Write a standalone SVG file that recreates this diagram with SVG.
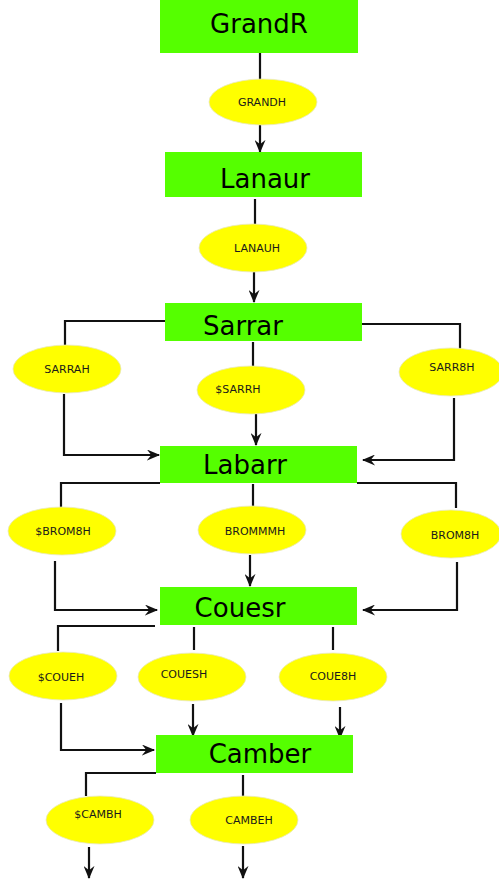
<svg xmlns="http://www.w3.org/2000/svg" width="499" height="883" viewBox="0 0 499 883">
<style>
.box{fill:#55ff00}
.ell{fill:#ffff00;stroke:#e8e8c0;stroke-width:0.8}
.big{font-family:"DejaVu Sans",sans-serif;font-size:26px;fill:#000;text-anchor:middle}
.sm{font-family:"DejaVu Sans",sans-serif;font-size:11px;fill:#1a1a1a;text-anchor:middle}
.ln{fill:none;stroke:#111;stroke-width:2.2}
.ar{fill:none;stroke:#111;stroke-width:2.2;marker-end:url(#ah)}
</style>
<defs>
<marker id="ah" viewBox="0 0 12 10" refX="11" refY="5" markerWidth="14" markerHeight="11" markerUnits="userSpaceOnUse" orient="auto">
<path d="M0,0 L12,5 L0,10 L4,5 z" fill="#111"/>
</marker>
</defs>
<rect width="499" height="883" fill="#fff"/>
<g id="connectors">
<path class="ln" d="M260,53 V80"/>
<path class="ar" d="M260,125 V152"/>
<path class="ln" d="M255,199 V224"/>
<path class="ar" d="M254,272 V302"/>
<path class="ln" d="M165,321 H65 V345"/>
<path class="ar" d="M64,394 V455 H159"/>
<path class="ln" d="M253,342 V367"/>
<path class="ar" d="M256,414 V445"/>
<path class="ln" d="M362,324 H460 V349"/>
<path class="ar" d="M454,398 V460 H363"/>
<path class="ln" d="M160,483 H61 V508"/>
<path class="ar" d="M55,561 V610 H157"/>
<path class="ln" d="M253,484 V506"/>
<path class="ar" d="M250,555 V586"/>
<path class="ln" d="M357,483 H456 V508"/>
<path class="ar" d="M457,562 V610 H363"/>
<path class="ln" d="M155,626 H58 V651"/>
<path class="ar" d="M61,703 V750 H154"/>
<path class="ln" d="M194,627 V650"/>
<path class="ar" d="M193,704 V736"/>
<path class="ln" d="M333,627 V650"/>
<path class="ar" d="M340,707 V738"/>
<path class="ln" d="M156,773 H86 V796"/>
<path class="ar" d="M89,847 V878"/>
<path class="ln" d="M243,775 V796"/>
<path class="ar" d="M243,846 V878"/>
</g>
<g id="GrandR"><rect class="box" x="160" y="0" width="198" height="53"/><text class="big" x="259" y="33">GrandR</text></g>
<g id="GRANDH"><ellipse class="ell" cx="263" cy="102" rx="54" ry="23"/><text class="sm" x="262" y="106">GRANDH</text></g>
<g id="Lanaur"><rect class="box" x="165" y="152" width="197" height="45"/><text class="big" x="265" y="188">Lanaur</text></g>
<g id="LANAUH"><ellipse class="ell" cx="253" cy="248" rx="54" ry="24"/><text class="sm" x="257" y="252">LANAUH</text></g>
<g id="Sarrar"><rect class="box" x="165" y="303" width="197" height="38"/><text class="big" x="243" y="335">Sarrar</text></g>
<g id="SARRAH"><ellipse class="ell" cx="67" cy="369" rx="54" ry="24"/><text class="sm" x="67" y="373">SARRAH</text></g>
<g id="SSARRH"><ellipse class="ell" cx="251" cy="390" rx="54" ry="24"/><text class="sm" x="238" y="393">$SARRH</text></g>
<g id="SARR8H"><ellipse class="ell" cx="451" cy="372" rx="52" ry="24"/><text class="sm" x="452" y="371">SARR8H</text></g>
<g id="Labarr"><rect class="box" x="160" y="446" width="197" height="37"/><text class="big" x="245" y="474">Labarr</text></g>
<g id="SBROM8H"><ellipse class="ell" cx="62" cy="531" rx="54" ry="24"/><text class="sm" x="63" y="535">$BROM8H</text></g>
<g id="BROMMMH"><ellipse class="ell" cx="252" cy="530" rx="54" ry="24"/><text class="sm" x="255" y="535">BROMMMH</text></g>
<g id="BROM8H"><ellipse class="ell" cx="451" cy="534" rx="50" ry="24"/><text class="sm" x="455" y="539">BROM8H</text></g>
<g id="Couesr"><rect class="box" x="160" y="587" width="197" height="38"/><text class="big" x="240" y="617">Couesr</text></g>
<g id="SCOUEH"><ellipse class="ell" cx="63" cy="676" rx="54" ry="24"/><text class="sm" x="61" y="681">$COUEH</text></g>
<g id="COUESH"><ellipse class="ell" cx="192" cy="677" rx="54" ry="24"/><text class="sm" x="184" y="678">COUESH</text></g>
<g id="COUE8H"><ellipse class="ell" cx="333" cy="677" rx="54" ry="24"/><text class="sm" x="333" y="680">COUE8H</text></g>
<g id="Camber"><rect class="box" x="156" y="735" width="197" height="38"/><text class="big" x="260" y="763">Camber</text></g>
<g id="SCAMBH"><ellipse class="ell" cx="100" cy="820" rx="54" ry="24"/><text class="sm" x="98" y="818">$CAMBH</text></g>
<g id="CAMBEH"><ellipse class="ell" cx="244" cy="820" rx="54" ry="24"/><text class="sm" x="249" y="824">CAMBEH</text></g>
</svg>
